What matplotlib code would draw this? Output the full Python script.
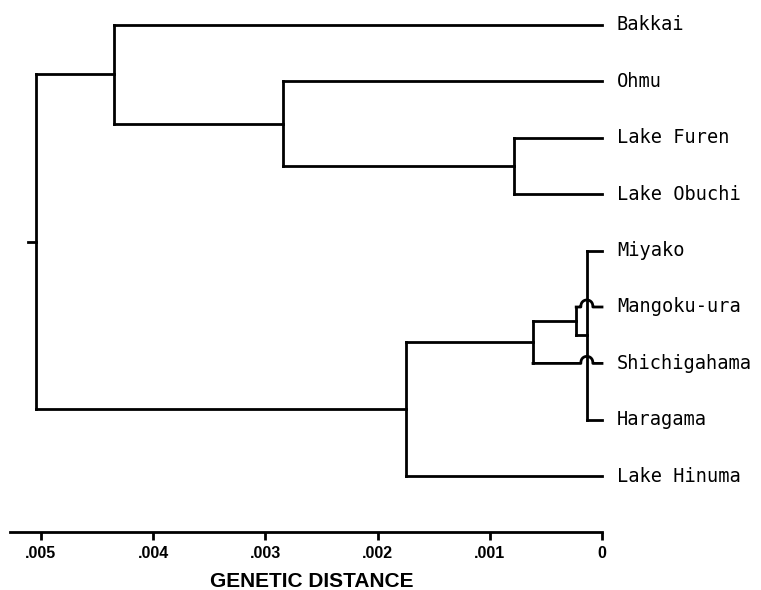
import numpy as np
import matplotlib
matplotlib.use('Agg')
import matplotlib.pyplot as plt
from matplotlib.ticker import FuncFormatter

# 葉の並び（上から）
leaves = ['Bakkai', 'Ohmu', 'Lake Furen', 'Lake Obuchi', 'Miyako',
          'Mangoku-ura', 'Shichigahama', 'Haragama', 'Lake Hinuma']
# 結合: (子1, 子2, 遺伝距離)  子の番号 >= 9 は前の結合
merges = [
    (2, 3, 0.00078),     # 9  Furen / Obuchi
    (4, 7, 0.000135),    # 10 Miyako / Haragama
    (5, 10, 0.00023),    # 11 Mangoku-ura
    (11, 6, 0.000615),   # 12 Shichigahama
    (12, 8, 0.00175),    # 13 Lake Hinuma
    (1, 9, 0.00284),     # 14 Ohmu
    (0, 14, 0.00435),    # 15 Bakkai
    (15, 13, 0.005045),  # 16 root
]
# 線が縦線を飛び越える箇所 (葉, 距離)
hops = [(5, 0.000135), (6, 0.000135)]
tick_vals = [0.005, 0.004, 0.003, 0.002, 0.001, 0.0]

LW = 2.0
col = 'black'
n = len(leaves)

fig = plt.figure(figsize=(7.61, 5.90), dpi=100)
ax = fig.add_axes([10 / 761, 58 / 590, 592 / 761, 532 / 590])
ax.set_xlim(592 / 112200, 0.0)
ax.set_ylim((532 - 25) / 56.4, -25 / 56.4)

ypos = {i: float(i) for i in range(n)}
xpos = {i: 0.0 for i in range(n)}


def hline(y, x0, x1, leaf=None):
    # 横線。飛び越え箇所があれば弧を描く
    for lf, hx in hops:
        if leaf == lf and min(x0, x1) < hx < max(x0, x1):
            rx = 6 / 112200
            ry = 7 / 56.4
            t = np.linspace(0, np.pi, 40)
            xs = np.concatenate([[max(x0, x1)], hx + rx * np.cos(t), [min(x0, x1)]])
            ys = np.concatenate([[y], y - ry * np.sin(t) ** 0.8, [y]])
            ax.plot(xs, ys, color=col, lw=LW, clip_on=False)
            return
    ax.plot([x0, x1], [y, y], color=col, lw=LW, clip_on=False)


for k, (a, b, h) in enumerate(merges):
    node = n + k
    ya, yb = ypos[a], ypos[b]
    ax.plot([h, h], [ya, yb], color=col, lw=LW, solid_capstyle='projecting')
    hline(ya, h, xpos[a], a if a < n else None)
    hline(yb, h, xpos[b], b if b < n else None)
    ypos[node] = (ya + yb) / 2
    xpos[node] = h

root = n + len(merges) - 1
ax.plot([merges[-1][2], merges[-1][2] + 8 / 112200], [ypos[root]] * 2, color=col, lw=LW)

for i, name in enumerate(leaves):
    ax.text(-15 / 112200, i, name, family='DejaVu Sans Mono', fontsize=13.4,
            va='center', ha='left', clip_on=False)

for s in ['top', 'left', 'right']:
    ax.spines[s].set_visible(False)
ax.spines['bottom'].set_linewidth(LW)
ax.set_yticks([])
ax.set_xticks(tick_vals)
ax.xaxis.set_major_formatter(FuncFormatter(lambda v, p: '0' if v == 0 else ('%.3f' % v)[1:]))
ax.tick_params(axis='x', direction='out', length=6, width=LW, pad=4)
for lab in ax.get_xticklabels():
    lab.set_family(['Liberation Sans Narrow', 'Liberation Sans'])
    lab.set_fontsize(11.5)
    lab.set_fontweight('bold')
ax.set_xlabel('GENETIC DISTANCE', family=['Liberation Sans Narrow', 'Liberation Sans'],
              fontsize=15, fontweight='bold', labelpad=4)
ax.xaxis.set_label_coords((312 - 10) / 592, -40 / 532)

fig.savefig('out.png', dpi=100)
